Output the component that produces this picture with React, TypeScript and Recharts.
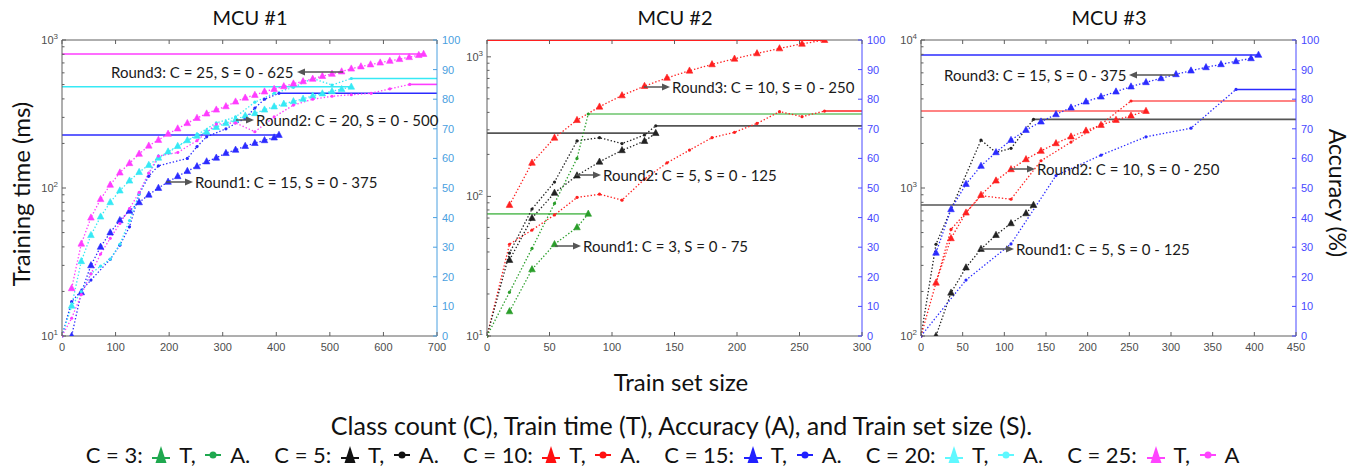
import React from "react";
import { ComposedChart, Line, XAxis, YAxis, ReferenceLine } from "recharts";

const TEXT_FONT = "Lato, 'Open Sans', sans-serif";
const TICK_FONT = "'Liberation Sans', Arial, sans-serif";
const AXIS = "#5f5f5f";
const TICK_TEXT = "#4d4d4d";

const MAGENTA = "#ff3cff";
const CYAN = "#36e9f5";
const BLUE = "#2b2bff";
const RED = "#ff2020";
const GREEN = "#2a9e2a";
const BLACK = "#222222";

// ---------- MCU #1 ----------
const m1Size15 = [18, 36, 54, 72, 90, 108, 126, 144, 162, 180, 198, 216, 234, 252, 270, 288, 306, 324, 342, 360, 378, 396, 405];
const m1Time15 = [10, 19.7, 30, 40, 50, 60.5, 70, 80, 90, 100, 110, 120, 130, 140, 151, 160, 172, 181, 192, 201, 210, 219, 228];
const m1AccSize15 = [0, 18, 54, 90, 108, 126, 144, 162, 180, 234, 252, 270, 306, 342, 360, 378, 405];
const m1Acc15 = [0, 11.6, 18.9, 25.9, 30.7, 36.9, 48, 54, 57.5, 60, 64, 67.3, 70, 73.5, 77, 80, 82];

const m1Size20 = [18, 36, 54, 72, 90, 108, 126, 144, 162, 180, 198, 216, 234, 252, 270, 288, 306, 324, 342, 360, 378, 396, 414, 432, 450, 468, 486, 504, 522, 540];
const m1Time20 = [16, 32, 48, 64, 80, 96, 112, 128, 143, 160, 176, 192, 210, 225, 240, 258, 274, 290, 308, 320, 338, 355, 370, 385, 400, 420, 435, 450, 465, 483];
const m1AccSize20 = [0, 18, 36, 54, 72, 90, 108, 126, 144, 162, 180, 216, 252, 288, 324, 360, 396, 432, 468, 504, 540];
const m1Acc20 = [0, 10, 15, 21, 23.6, 26, 31, 39, 48, 55, 60, 64, 68, 72, 74, 79, 82, 84, 87, 84.8, 87];

const m1Size25 = [18, 36, 54, 72, 90, 108, 126, 144, 162, 180, 198, 216, 234, 252, 270, 288, 306, 324, 342, 360, 378, 396, 414, 432, 450, 468, 486, 504, 522, 540, 558, 576, 594, 612, 630, 648, 666, 675];
const m1Time25 = [21, 42, 63, 84, 105, 127, 147, 170, 193, 211, 232, 252, 274, 297, 318, 338, 356, 383, 407, 425, 448, 466, 486, 507, 525, 546, 570, 590, 612, 640, 662, 683, 703, 722, 742, 765, 790, 804];
const m1AccSize25 = [0, 18, 36, 54, 72, 90, 108, 126, 144, 162, 180, 216, 252, 288, 324, 360, 396, 432, 468, 504, 540, 577, 612, 649];
const m1Acc25 = [0, 6, 14, 21, 27.7, 33, 38, 43, 48.5, 55, 60.8, 62, 66, 71.6, 72, 69, 74, 78, 80, 81, 81.5, 82, 83.5, 85];

// ---------- MCU #2 ----------
const m2Size3 = [18, 36, 54, 72, 81];
const m2Time3 = [15, 30, 45.4, 60, 75];
const m2AccSize3 = [0, 18, 36, 54, 72, 81];
const m2Acc3 = [0, 14.8, 29.6, 44.8, 60, 75];

const m2Size5 = [18, 36, 54, 72, 90, 108, 126, 135];
const m2Time5 = [35, 70, 106, 141, 177, 214, 249, 284];
const m2AccSize5 = [0, 18, 36, 54, 72, 90, 108, 126, 135];
const m2Acc5 = [0, 28, 42.9, 52, 65.9, 67, 65, 67.9, 71];

const m2Size10 = [18, 36, 54, 72, 90, 108, 126, 144, 162, 180, 198, 216, 234, 252, 270];
const m2Time10 = [86.8, 174, 263, 352, 439, 529, 617, 707, 795, 883, 968, 1058, 1148, 1239, 1318];
const m2AccSize10 = [0, 18, 36, 54, 72, 90, 108, 126, 144, 162, 180, 198, 216, 234, 252, 270];
const m2Acc10 = [0, 31, 35.8, 40.9, 46.8, 47.9, 45.9, 53, 58.5, 62.8, 67, 68.8, 71.8, 75.8, 74.1, 76];

// ---------- MCU #3 ----------
const m3Size5 = [18, 36, 54, 72, 90, 108, 126, 135];
const m3Time5 = [100, 196, 290, 387, 481, 577, 674, 767];
const m3AccSize5 = [0, 18, 72, 90, 108, 135];
const m3Acc5 = [0, 31, 66.2, 62, 63.4, 73.2];

const m3Size10 = [18, 36, 54, 72, 90, 108, 126, 144, 162, 180, 198, 216, 234, 252, 270];
const m3Time10 = [229, 457, 681, 897, 1121, 1337, 1563, 1779, 2004, 2224, 2439, 2665, 2880, 3080, 3311];
const m3AccSize10 = [0, 36, 72, 108, 144, 180, 216, 252];
const m3Acc10 = [0, 36, 47.4, 46.2, 59.2, 65.5, 71.5, 79.4];

const m3Size15 = [18, 36, 54, 72, 90, 108, 126, 144, 162, 180, 198, 216, 234, 252, 270, 288, 306, 324, 342, 360, 378, 396, 405];
const m3Time15 = [365, 718, 1064, 1409, 1742, 2108, 2464, 2807, 3145, 3490, 3831, 4140, 4477, 4842, 5180, 5510, 5863, 6207, 6537, 6850, 7180, 7520, 7925];
const m3AccSize15 = [0, 54, 108, 162, 216, 270, 324, 378];
const m3Acc15 = [0, 18.9, 31.1, 54.2, 61.1, 67.3, 70.2, 83.3];

// ---------- axes ----------
const accTicks = [0, 10, 20, 30, 40, 50, 60, 70, 80, 90, 100];
const m1XTicks = [0, 100, 200, 300, 400, 500, 600, 700];
const m2XTicks = [0, 50, 100, 150, 200, 250, 300];
const m3XTicks = [0, 50, 100, 150, 200, 250, 300, 350, 400, 450];
const logTicks12 = [10, 20, 30, 40, 50, 60, 70, 80, 90, 100, 200, 300, 400, 500, 600, 700, 800, 900, 1000];
const logTicks23 = [100, 200, 300, 400, 500, 600, 700, 800, 900, 1000, 2000, 3000, 4000, 5000, 6000, 7000, 8000, 9000, 10000];

interface Series {
  color: string;
  flat: string;
  size: number[];
  time: number[];
  accSize: number[];
  acc: number[];
}

const TOP = 10;

function XTick(props: any) {
  const { x, y, payload } = props;
  return (
    <g>
      <line x1={x} y1={y} x2={x} y2={y - 4} stroke={AXIS} />
      <line x1={x} y1={TOP} x2={x} y2={TOP + 4} stroke={AXIS} />
      <text x={x} y={y + 15} textAnchor="middle" fontSize={11} fill={TICK_TEXT} fontFamily={TICK_FONT}>
        {payload.value}
      </text>
    </g>
  );
}

function LogTick(props: any) {
  const { x, y, payload } = props;
  const e = Math.log10(payload.value);
  const major = Math.abs(e - Math.round(e)) < 1e-6;
  return (
    <g>
      <line x1={x} y1={y} x2={x + (major ? 4 : 2.5)} y2={y} stroke={AXIS} />
      {major && (
        <text x={x - 4} y={y + 4} textAnchor="end" fontSize={11} fill={TICK_TEXT} fontFamily={TICK_FONT}>
          10
          <tspan dy={-5} fontSize={8}>
            {Math.round(e)}
          </tspan>
        </text>
      )}
    </g>
  );
}

function AccTick(props: any) {
  const { x, y, payload, color } = props;
  return (
    <g>
      <line x1={x} y1={y} x2={x - 4} y2={y} stroke={color} />
      <text x={x + 5} y={y + 4} fontSize={11} fill={color} fontFamily={TICK_FONT}>
        {payload.value}
      </text>
    </g>
  );
}

function triDot(color: string) {
  return (p: any) => {
    if (p.cx == null || p.cy == null) return <g key={`t${p.index}`} />;
    const { cx, cy } = p;
    return (
      <polygon
        key={`t${p.index}`}
        points={`${cx},${cy - 3.8} ${cx - 3.3},${cy + 2.4} ${cx + 3.3},${cy + 2.4}`}
        fill={color}
        stroke={color}
        strokeWidth={0.6}
      />
    );
  };
}

function roundDot(color: string) {
  return (p: any) => {
    if (p.cx == null || p.cy == null) return <g key={`a${p.index}`} />;
    return <circle key={`a${p.index}`} cx={p.cx} cy={p.cy} r={1.6} fill={color} />;
  };
}

interface PanelProps {
  left: number;
  xMax: number;
  xTicks: number[];
  tDomain: [number, number];
  tTicks: number[];
  accColor: string;
  series: Series[];
}

function Panel({ left, xMax, xTicks, tDomain, tTicks, accColor, series }: PanelProps) {
  return (
    <div style={{ position: "absolute", left, top: 30 }}>
      <ComposedChart width={440} height={326} margin={{ top: TOP, right: 0, bottom: 0, left: 0 }}>
        <XAxis
          type="number"
          dataKey="x"
          domain={[0, xMax]}
          ticks={xTicks}
          interval={0}
          height={20}
          tickSize={0}
          tickMargin={0}
          tickLine={false}
          axisLine={{ stroke: AXIS }}
          tick={(p: any) => <XTick {...p} />}
          allowDataOverflow
        />
        <YAxis
          yAxisId="t"
          scale="log"
          domain={tDomain}
          ticks={tTicks}
          interval={0}
          width={40}
          tickSize={0}
          tickMargin={0}
          tickLine={false}
          axisLine={{ stroke: AXIS }}
          tick={(p: any) => <LogTick {...p} />}
          allowDataOverflow
        />
        <YAxis
          yAxisId="a"
          orientation="right"
          domain={[0, 100]}
          ticks={accTicks}
          interval={0}
          width={25}
          tickSize={0}
          tickMargin={0}
          tickLine={false}
          axisLine={{ stroke: accColor }}
          tick={(p: any) => <AccTick {...p} color={accColor} />}
        />
        <ReferenceLine yAxisId="a" y={100} stroke={AXIS} />
        {series.map((s, i) => {
          const lastX = s.size[s.size.length - 1];
          const lastT = s.time[s.time.length - 1];
          const lastAx = s.accSize[s.accSize.length - 1];
          const lastA = s.acc[s.acc.length - 1];
          return [
            <Line
              key={`ht${i}`}
              yAxisId="t"
              data={[{ x: 0, t: lastT }, { x: lastX, t: lastT }]}
              dataKey="t"
              stroke={s.flat}
              strokeWidth={1.6}
              dot={false}
              activeDot={false}
              isAnimationActive={false}
            />,
            <Line
              key={`ha${i}`}
              yAxisId="a"
              data={[{ x: lastAx, a: lastA }, { x: xMax, a: lastA }]}
              dataKey="a"
              stroke={s.flat}
              strokeWidth={1.6}
              dot={false}
              activeDot={false}
              isAnimationActive={false}
            />,
          ];
        })}
        {series.map((s, i) => [
          <Line
            key={`a${i}`}
            yAxisId="a"
            data={s.accSize.map((x, j) => ({ x, a: s.acc[j] }))}
            dataKey="a"
            stroke={s.color}
            strokeWidth={1.3}
            strokeDasharray="1.4 2"
            dot={roundDot(s.color)}
            activeDot={false}
            isAnimationActive={false}
          />,
          <Line
            key={`t${i}`}
            yAxisId="t"
            data={s.size.map((x, j) => ({ x, t: s.time[j] }))}
            dataKey="t"
            stroke={s.color}
            strokeWidth={1.3}
            strokeDasharray="1.4 2"
            dot={triDot(s.color)}
            activeDot={false}
            isAnimationActive={false}
          />,
        ])}
      </ComposedChart>
    </div>
  );
}

const panel1: Series[] = [
  { color: BLUE, flat: BLUE, size: m1Size15, time: m1Time15, accSize: m1AccSize15, acc: m1Acc15 },
  { color: CYAN, flat: CYAN, size: m1Size20, time: m1Time20, accSize: m1AccSize20, acc: m1Acc20 },
  { color: MAGENTA, flat: MAGENTA, size: m1Size25, time: m1Time25, accSize: m1AccSize25, acc: m1Acc25 },
];
const panel2: Series[] = [
  { color: RED, flat: RED, size: m2Size10, time: m2Time10, accSize: m2AccSize10, acc: m2Acc10 },
  { color: BLACK, flat: "#555555", size: m2Size5, time: m2Time5, accSize: m2AccSize5, acc: m2Acc5 },
  { color: GREEN, flat: "#6cc46c", size: m2Size3, time: m2Time3, accSize: m2AccSize3, acc: m2Acc3 },
];
const panel3: Series[] = [
  { color: BLACK, flat: "#555555", size: m3Size5, time: m3Time5, accSize: m3AccSize5, acc: m3Acc5 },
  { color: RED, flat: "#ff5a5a", size: m3Size10, time: m3Time10, accSize: m3AccSize10, acc: m3Acc10 },
  { color: BLUE, flat: BLUE, size: m3Size15, time: m3Time15, accSize: m3AccSize15, acc: m3Acc15 },
];

const notes = [
  { text: "Round3: C = 25, S = 0 - 625", tx: 111, y: 72, from: 343, to: 297 },
  { text: "Round2: C = 20, S = 0 - 500", tx: 256, y: 120, from: 236, to: 254 },
  { text: "Round1: C = 15, S = 0 - 375", tx: 195, y: 182, from: 166, to: 193 },
  { text: "Round3: C = 10, S = 0 - 250", tx: 672, y: 87, from: 644, to: 670 },
  { text: "Round2: C = 5, S = 0 - 125", tx: 603, y: 175, from: 576, to: 601 },
  { text: "Round1: C = 3, S = 0 - 75", tx: 583, y: 246, from: 555, to: 581 },
  { text: "Round3: C = 15, S = 0 - 375", tx: 944, y: 75, from: 1175, to: 1129 },
  { text: "Round2: C = 10, S = 0 - 250", tx: 1037, y: 169, from: 1010, to: 1035 },
  { text: "Round1: C = 5, S = 0 - 125", tx: 1016, y: 249, from: 980, to: 1014 },
];

const legendItems = [
  { label: "C = 3:", color: "#1fa84f" },
  { label: "C = 5:", color: "#111111" },
  { label: "C = 10:", color: "#ff1010" },
  { label: "C = 15:", color: "#2020ff" },
  { label: "C = 20:", color: "#5ff8ff" },
  { label: "C = 25:", color: "#ff44ff" },
];

function TriIcon({ color }: { color: string }) {
  return (
    <svg width={20} height={22} style={{ margin: "0 3px" }}>
      <line x1={1} y1={14} x2={19} y2={14} stroke={color} strokeWidth={2} />
      <polygon points="10,2 4.5,19 15.5,19" fill={color} />
    </svg>
  );
}

function DotIcon({ color }: { color: string }) {
  return (
    <svg width={18} height={20} style={{ margin: "0 3px" }}>
      <line x1={1} y1={10} x2={17} y2={10} stroke={color} strokeWidth={2} />
      <circle cx={9} cy={10} r={3.5} fill={color} />
    </svg>
  );
}

export default function App() {
  return (
    <div style={{ position: "absolute", left: 0, top: 0, width: 1363, height: 472, background: "#fff", overflow: "hidden" }}>
      <Panel left={22} xMax={700} xTicks={m1XTicks} tDomain={[10, 1000]} tTicks={logTicks12} accColor="#4aa0e0" series={panel1} />
      <Panel left={447} xMax={300} xTicks={m2XTicks} tDomain={[10, 1320]} tTicks={logTicks12} accColor="#4848ff" series={panel2} />
      <Panel left={881} xMax={450} xTicks={m3XTicks} tDomain={[100, 10000]} tTicks={logTicks23} accColor="#4848ff" series={panel3} />

      <svg width={1363} height={472} style={{ position: "absolute", left: 0, top: 0, pointerEvents: "none" }}>
        <g fontFamily={TEXT_FONT} fill="#111">
          <text x={250} y={17} fontSize={20} textAnchor="middle" dominantBaseline="central">MCU #1</text>
          <text x={675} y={17} fontSize={20} textAnchor="middle" dominantBaseline="central">MCU #2</text>
          <text x={1109} y={17} fontSize={20} textAnchor="middle" dominantBaseline="central">MCU #3</text>
          <text x={0} y={0} fontSize={24} textAnchor="middle" dominantBaseline="central" transform="translate(20,194) rotate(-90)">
            Training time (ms)
          </text>
          <text x={0} y={0} fontSize={23} textAnchor="middle" dominantBaseline="central" transform="translate(1338,193) rotate(90)">
            Accuracy (%)
          </text>
          <text x={681} y={381} fontSize={24} textAnchor="middle" dominantBaseline="central">Train set size</text>
        </g>
        {notes.map((n, i) => {
          const dir = Math.sign(n.to - n.from);
          return (
            <g key={i}>
              <line x1={n.from} y1={n.y} x2={n.to - dir * 6} y2={n.y} stroke="#555" strokeWidth={1.5} />
              <polygon points={`${n.to},${n.y} ${n.to - dir * 8},${n.y - 3.5} ${n.to - dir * 8},${n.y + 3.5}`} fill="#555" />
              <text x={n.tx} y={n.y} fontSize={15} fontFamily={TEXT_FONT} fill="#1a1a1a" dominantBaseline="central">
                {n.text}
              </text>
            </g>
          );
        })}
      </svg>

      <div style={{ position: "absolute", top: 410, left: 0, width: 1363, textAlign: "center", fontFamily: TEXT_FONT, fontSize: 25, color: "#111", lineHeight: "30px" }}>
        Class count (C), Train time (T), Accuracy (A), and Train set size (S).
      </div>
      <div style={{ position: "absolute", top: 440, left: 0, width: 1325, display: "flex", justifyContent: "center", gap: 24, fontFamily: TEXT_FONT, fontSize: 22, color: "#111", lineHeight: "30px" }}>
        {legendItems.map((it, i) => (
          <span key={i} style={{ display: "inline-flex", alignItems: "center", whiteSpace: "pre" }}>
            {it.label + " "}
            <TriIcon color={it.color} />
            {" T, "}
            <DotIcon color={it.color} />
            {i === legendItems.length - 1 ? " A" : " A."}
          </span>
        ))}
      </div>
    </div>
  );
}
